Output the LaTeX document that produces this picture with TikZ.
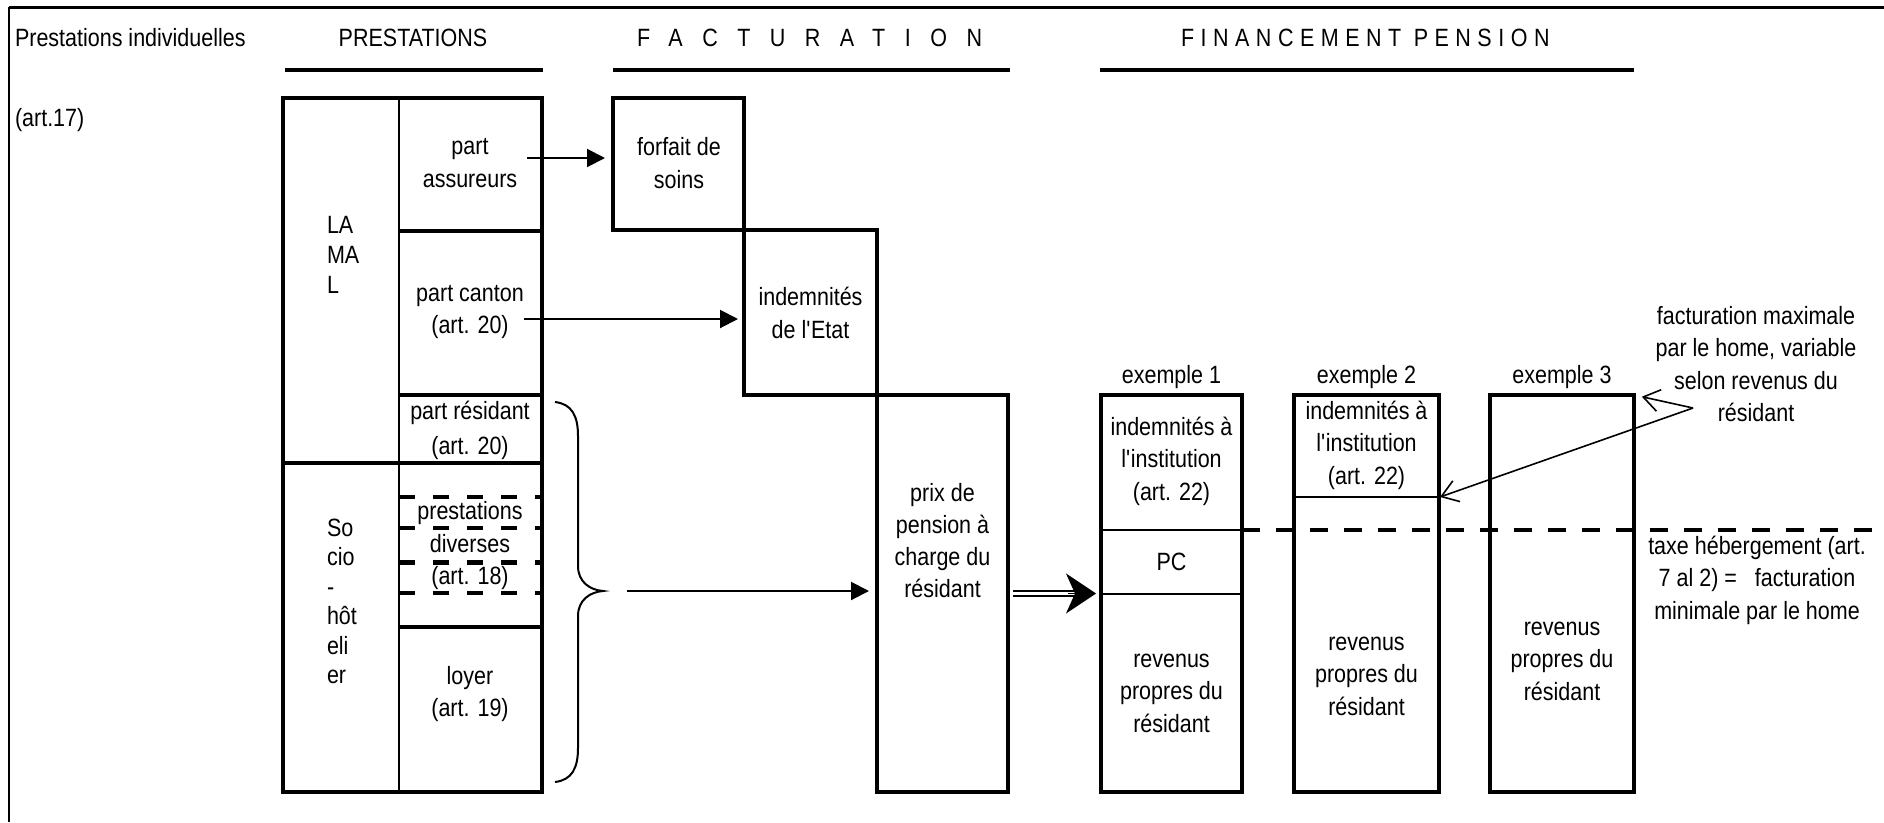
\documentclass[tikz,border=0pt]{standalone}
\usepackage{fontspec}
\setmainfont{Liberation Sans}[FakeStretch=0.86]
\usetikzlibrary{arrows.meta,calc}
\newcommand\aq{\textquotesingle}
\begin{document}
\begin{tikzpicture}[x=1pt,y=-1pt,
  every node/.style={inner sep=0pt, outer sep=0pt},
  txt/.style={align=center, font=\fontsize{25pt}{32.5pt}\selectfont},
  txtl/.style={align=left, anchor=west, font=\fontsize{25pt}{#1}\selectfont},
  boxk/.style={draw, line width=4.5pt, inner sep=0pt, outer sep=0pt},
  hline/.style={line width=4.5pt},
  thinl/.style={line width=2.5pt},
  thickl/.style={line width=4.5pt},
  dline/.style={line width=3.5pt, dash pattern=on 16pt off 18pt},
  mdash/.style={line width=3.5pt, dash pattern=on 18pt off 16pt},
  arr/.style={line width=2pt, -{Triangle[length=18pt,width=18pt]}},
  oarr/.style={line width=1.6pt, -{Straight Barb[length=16pt,width=22pt]}},
  bracel/.style={line width=2pt}
]
\useasboundingbox (0,0) rectangle (1884,822);

% frame
\draw[line width=3pt] (9,7) -- (1884,7);
\draw[line width=2pt] (9,7) -- (9,822);

% headers
\node[txt, anchor=west] (hpi) at (15,38) {Prestations individuelles};
\node[txt] (hprest) at (413,38) {PRESTATIONS};
\node[anchor=west, font=\fontsize{25pt}{32pt}\selectfont\addfontfeatures{LetterSpace=78}] (hfact) at (637,38) {FACTURATION};
\node[anchor=west, font=\fontsize{25pt}{32pt}\selectfont\addfontfeatures{LetterSpace=26}] (hfin) at (1181,38) {FINANCEMENT PENSION};
\draw[hline] (285,70) -- (543,70);
\draw[hline] (613,70) -- (1010,70);
\draw[hline] (1100,70) -- (1634,70);
\node[txt, anchor=west] (art17) at (15,120) {(art.17)};

% prestations column
\node[boxk, minimum width=259pt, minimum height=694pt] (lamal) at (412.5,445) {};
\draw[thinl] (399,98) -- (399,792);
\draw[thickl] (399,231) -- (542,231);
\draw[thickl] (399,395) -- (542,395);
\draw[thickl] (283,463) -- (542,463);
\draw[thickl] (399,627) -- (542,627);
\draw[dline] (399,497) -- (542,497);
\draw[dline] (399,528) -- (542,528);
\draw[dline, line width=5pt] (399,562) -- (542,562);
\draw[dline] (399,593) -- (542,593);

\node[txtl=30pt] (lamaltxt) at (327,255) {LA\\MA\\L};
\node[txtl=29.5pt] (sociotxt) at (327,601.5) {So\\cio\\-\\hôt\\eli\\er};
\node[txt] (passur) at (470,163) {part\\assureurs};
\node[txt] (pcanton) at (470,312) {part canton\\(art. 20)};
\node[txt, font=\fontsize{25pt}{35pt}\selectfont] (presid) at (470,430) {part résidant\\(art. 20)};
\node[txt] (prestdiv) at (470,546) {prestations\\diverses\\(art. 18)};
\node[txt] (loyer) at (470,694) {loyer\\(art. 19)};

% facturation staircase
\node[boxk, minimum width=131pt, minimum height=132pt] (forfait) at (678.5,164) {};
\node[boxk, minimum width=133pt, minimum height=165pt] (indem) at (810.5,312.5) {};
\node[boxk, minimum width=131pt, minimum height=397pt] (prix) at (942.5,593.5) {};
\node[txt] (forfaittxt) at (679,163) {forfait de\\soins};
\node[txt] (indemtxt) at (810.5,313) {indemnités\\de l\aq Etat};
\node[txt, font=\fontsize{25pt}{32pt}\selectfont] (prixtxt) at (942.5,541) {prix de\\pension à\\charge du\\résidant};

% financement
\node[boxk, minimum width=141pt, minimum height=397pt] (ex1) at (1171.5,593.5) {};
\node[boxk, minimum width=145pt, minimum height=397pt] (ex2) at (1366.5,593.5) {};
\node[boxk, minimum width=144pt, minimum height=397pt] (ex3) at (1562,593.5) {};
\draw[thinl] (1101,530) -- (1242,530);
\draw[thinl] (1101,594) -- (1242,594);
\draw[thinl] (1294,497) -- (1439,497);
\draw[mdash] (1242,530) -- (1884,530);

\node[txt] (ex1lab) at (1171.5,377) {exemple 1};
\node[txt] (ex2lab) at (1366.5,377) {exemple 2};
\node[txt] (ex3lab) at (1562,377) {exemple 3};
\node[txt] (ex1ind) at (1171.5,461) {indemnités à\\l\aq institution\\(art. 22)};
\node[txt] (ex1pc) at (1171.5,562) {PC};
\node[txt] (ex1rev) at (1171.5,693) {revenus\\propres du\\résidant};
\node[txt] (ex2ind) at (1366.5,445) {indemnités à\\l\aq institution\\(art. 22)};
\node[txt] (ex2rev) at (1366.5,676) {revenus\\propres du\\résidant};
\node[txt] (ex3rev) at (1562,661) {revenus\\propres du\\résidant};

\node[txt] (ann) at (1756,364) {facturation maximale\\par le home, variable\\selon revenus du\\résidant};
\node[txt] (taxe) at (1757,580) {taxe hébergement (art.\\7 al 2) =\ \ \ facturation\\minimale par le home};

% brace
\draw[bracel] (555,402) .. controls (572,404) and (578,416) .. (578,436)
  -- (578,566) .. controls (578,582) and (590,590) .. (603,591)
  .. controls (590,592) and (578,600) .. (578,616)
  -- (578,748) .. controls (578,768) and (572,780) .. (555,782);
\coordinate (btip) at (603,591);

% arrows
\coordinate (a1s) at (527,158);
\draw[arr, shorten >=8pt] (a1s) -- (a1s -| forfait.west);
\coordinate (a2s) at (524,319);
\draw[arr, shorten >=6pt] (a2s) -- (a2s -| indem.west);
\coordinate (a3s) at (627,591);
\draw[arr, shorten >=8pt] (a3s) -- (a3s -| prix.west);

\coordinate (d1) at ($(prix.east)+(5,0)$);
\coordinate (d2) at ($(ex1.west)+(-5,0)$);
\draw[line width=2pt, double distance=3pt, shorten >=22pt] (d1) -- (d2);
\draw[line width=1pt, -{Stealth[length=30pt,width=40pt,inset=9pt]}] ($(d2)+(-28,0)$) -- (d2);

\coordinate (anns) at (1693,408);
\coordinate (ex2t) at (1440,497);
\draw[oarr] (anns) -- (ex2t);
\draw[oarr, shorten >=8pt] (anns) -- (ex3.north east);
\end{tikzpicture}
\end{document}
